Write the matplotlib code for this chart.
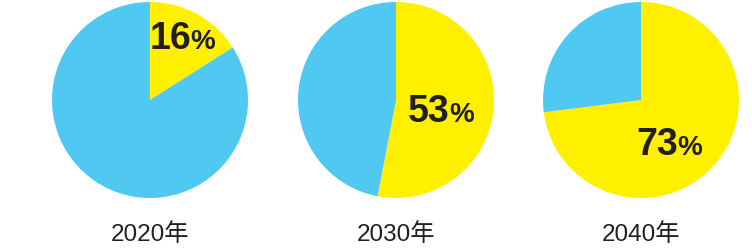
import matplotlib.pyplot as plt

plt.rcParams['font.family'] = ['Liberation Sans', 'Noto Sans CJK JP', 'DejaVu Sans']

# Datos
years = ['2020年', '2030年', '2040年']
shares = [16, 53, 73]          # porcentaje amarillo
centers_x = [150, 396, 641]
label_pos = [(191, 49), (450, 122), (678, 155)]  # x fin de digitos, baseline

yellow = '#FFF000'
blue = '#50C9F2'
dark = '#231F20'

W, H = 752, 253
fig = plt.figure(figsize=(W / 100, H / 100), dpi=100)
ax = fig.add_axes([0, 0, 1, 1])

for cx, s, yr, (lx, ly) in zip(centers_x, shares, years, label_pos):
    # con el eje y invertido el sentido antihorario se ve horario
    ax.pie([s, 100 - s], colors=[yellow, blue], startangle=-90, counterclock=True,
           center=(cx, 101), radius=98, frame=True,
           wedgeprops=dict(linewidth=0))
    ax.text(lx, ly, str(s), ha='right', va='baseline', fontsize=27,
            fontweight='bold', color=dark,
            family=['Liberation Sans Narrow', 'Liberation Sans'])
    ax.text(lx - 1, ly, '%', ha='left', va='baseline', fontsize=20,
            fontweight='bold', color=dark,
            family=['Liberation Sans Narrow', 'Liberation Sans'])
    ax.text(cx, 241, yr, ha='center', va='baseline', fontsize=17.5, color=dark)

ax.set_xlim(0, W)
ax.set_ylim(H, 0)
ax.set_aspect('auto')
ax.axis('off')
fig.savefig('out.png', dpi=100)
